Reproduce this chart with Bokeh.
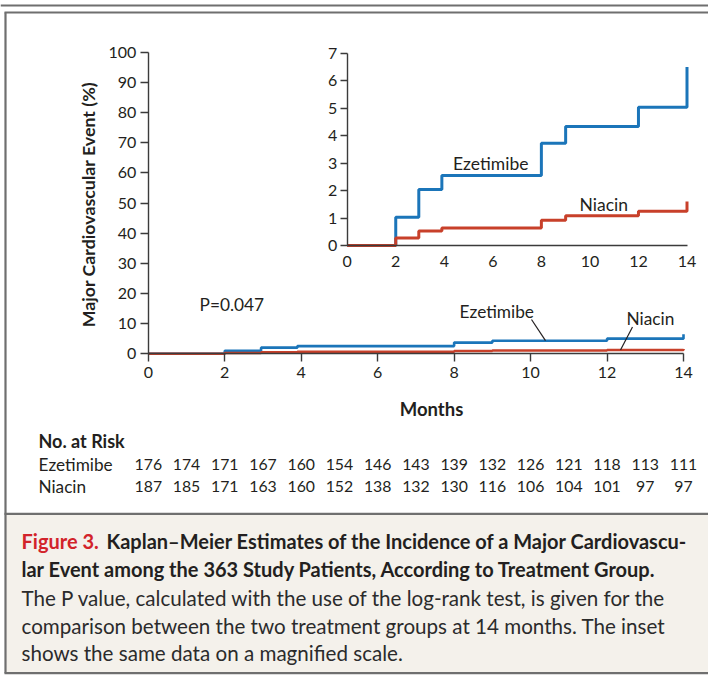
import math
from bokeh.plotting import figure
from bokeh.models import Range1d, LinearAxis, FixedTicker
from bokeh.core.properties import value
from bokeh.embed import file_html
from bokeh.resources import INLINE

# ---------------- data ----------------
ez_months = [0, 2, 2.95, 3.9, 8, 9, 12, 14]
ez_pct = [0.0, 1.03, 2.04, 2.55, 3.72, 4.33, 5.03, 6.5]
ni_months = [0, 2, 2.95, 3.9, 8, 9, 12, 14]
ni_pct = [0.0, 0.27, 0.53, 0.64, 0.92, 1.08, 1.25, 1.6]

risk_months = list(range(15))
risk_ez = [176, 174, 171, 167, 160, 154, 146, 143, 139, 132, 126, 121, 118, 113, 111]
risk_ni = [187, 185, 171, 163, 160, 152, 138, 132, 130, 116, 106, 104, 101, 97, 97]

main_x_ticks = [0, 2, 4, 6, 8, 10, 12, 14]
main_y_ticks = [0, 10, 20, 30, 40, 50, 60, 70, 80, 90, 100]
inset_x_ticks = [0, 2, 4, 6, 8, 10, 12, 14]
inset_y_ticks = [0, 1, 2, 3, 4, 5, 6, 7]

group_names = ["Ezetimibe", "Niacin"]
p_text = "P=0.047"
y_title = "Major Cardiovascular Event (%)"
x_title = "Months"
risk_title = "No. at Risk"
cap_fig = "Figure 3."
cap_line1 = "Kaplan\u2013Meier Estimates of the Incidence of a Major Cardiovascu-"
cap_line2 = "lar Event among the 363 Study Patients, According to Treatment Group."
cap_body = [
    "The P value, calculated with the use of the log-rank test, is given for the",
    "comparison between the two treatment groups at 14 months. The inset",
    "shows the same data on a magnified scale.",
]

# ---------------- geometry (canvas pixels) ----------------
W, H = 708, 675
MX0, MX1 = 147.8, 683.0     # month 0 / 14 on main plot
MY0, MY1 = 353.3, 51.7      # 0 % / 100 % on main plot
IX0, IX1 = 346.7, 686.5     # month 0 / 14 on inset
IY0, IY1 = 245.0, 52.7      # 0 / 7 % on inset

BLUE = "#1b75b9"
RED = "#c8402a"
INK = "#231f20"
AX = "#3b3b3b"
FONT = "Lato"


def rng_x(v0, p0, v1, p1):
    s = (p1 - p0) / (v1 - v0)
    return Range1d(v0 - p0 / s, v0 + (W - p0) / s)


def rng_y(v0, p0, v1, p1):
    s = (p0 - p1) / (v1 - v0)
    return Range1d(v0 - (H - p0) / s, v0 + p0 / s)


p = figure(width=W, height=H, x_range=rng_x(0, MX0, 14, MX1),
           y_range=rng_y(0, MY0, 100, MY1),
           x_axis_type=None, y_axis_type=None, toolbar_location=None,
           output_backend="svg", min_border=0, outline_line_color=None,
           background_fill_color="white", border_fill_color="white")
p.extra_x_ranges = {"ix": rng_x(0, IX0, 14, IX1), "px": Range1d(0, W)}
p.extra_y_ranges = {"iy": rng_y(0, IY0, 7, IY1), "px": Range1d(H, 0)}

PX = dict(x_range_name="px", y_range_name="px")

# ---------------- frame / caption box ----------------
SEP_Y, BOT_Y = 513.3, 672.7
p.quad(left=[5], right=[W], top=[SEP_Y], bottom=[BOT_Y],
       fill_color="#f4f1eb", line_color=None, **PX)
p.segment(x0=[0, 4, 4, 4, 5], y0=[5, 12, SEP_Y, BOT_Y, 12],
          x1=[W, W, W, W, 5], y1=[5, 12, SEP_Y, BOT_Y, BOT_Y],
          line_color="#6f6f6f", line_width=2.2, **PX)


def style_axis(ax, tick_out=7, size="16px"):
    ax.axis_line_color = AX
    ax.axis_line_width = 1.4
    ax.major_tick_line_color = AX
    ax.major_tick_line_width = 1.4
    ax.major_tick_out = tick_out
    ax.major_tick_in = 0
    ax.minor_tick_line_color = None
    ax.major_label_text_font = FONT
    ax.major_label_text_font_size = size
    ax.major_label_text_color = INK
    ax.major_label_orientation = "horizontal"


# ---------------- main axes ----------------
yax = LinearAxis(ticker=FixedTicker(ticks=main_y_ticks), bounds=(0, 100),
                 fixed_location=0)
style_axis(yax, tick_out=8)
yax.major_label_standoff = 4
p.add_layout(yax, "left")

xax = LinearAxis(ticker=FixedTicker(ticks=main_x_ticks), bounds=(0, 14),
                 fixed_location=0)
style_axis(xax, tick_out=8)
xax.major_label_standoff = 5
p.add_layout(xax, "below")

# ---------------- inset axes ----------------
iyax = LinearAxis(ticker=FixedTicker(ticks=inset_y_ticks), bounds=(0, 7),
                  fixed_location=0, x_range_name="ix", y_range_name="iy")
style_axis(iyax, tick_out=7)
iyax.major_label_standoff = 3
p.add_layout(iyax, "left")

ixax = LinearAxis(ticker=FixedTicker(ticks=inset_x_ticks), bounds=(0, 14),
                  fixed_location=0, x_range_name="ix", y_range_name="iy")
style_axis(ixax, tick_out=0)
ixax.major_label_standoff = 10
p.add_layout(ixax, "below")

# ---------------- axis titles ----------------
p.text(x=[87], y=[204], text=[y_title], angle=math.pi / 2,
       text_font=value(FONT), text_font_size="17.8px", text_font_style="bold",
       text_color=INK, text_align="center", text_baseline="middle", **PX)
p.text(x=[431], y=[408], text=[x_title],
       text_font=value(FONT), text_font_size="18.5px", text_font_style="bold",
       text_color=INK, text_align="center", text_baseline="middle", **PX)

# ---------------- curves ----------------
p.step(ez_months, ez_pct, mode="after", line_color=BLUE, line_width=2.6)
p.step(ni_months, ni_pct, mode="after", line_color=RED, line_width=2.6)
p.step(ez_months, ez_pct, mode="after", line_color=BLUE, line_width=3,
       x_range_name="ix", y_range_name="iy")
p.step(ni_months, ni_pct, mode="after", line_color=RED, line_width=3,
       x_range_name="ix", y_range_name="iy")

# ---------------- curve labels ----------------
p.text(x=[199, 459, 626], y=[303.5, 311, 318],
       text=[p_text, group_names[0], group_names[1]],
       text_font=value(FONT), text_font_size="17.3px", text_color=INK,
       text_align="left", text_baseline="middle", **PX)
p.segment(x0=[531, 632], y0=[319, 326.5], x1=[545, 620], y1=[340.2, 349.5],
          line_color=INK, line_width=1.2, **PX)
p.text(x=[452.5, 579], y=[163, 204], text=[group_names[0], group_names[1]],
       text_font=value(FONT), text_font_size="17.5px", text_color=INK,
       text_align="left", text_baseline="middle", **PX)

# ---------------- risk table ----------------
p.text(x=[38], y=[440], text=[risk_title], text_font=value(FONT),
       text_font_size="18px", text_font_style="bold", text_color=INK,
       text_align="left", text_baseline="middle", **PX)
p.text(x=[38, 38], y=[464, 486], text=group_names, text_font=value(FONT),
       text_font_size="17.2px", text_color=INK, text_align="left",
       text_baseline="middle", **PX)
p.text(x=risk_months, y=[464] * len(risk_months), text=[str(v) for v in risk_ez],
       text_font=value(FONT), text_font_size="15.8px", text_color=INK,
       text_align="center", text_baseline="middle", y_range_name="px")
p.text(x=risk_months, y=[486] * len(risk_months), text=[str(v) for v in risk_ni],
       text_font=value(FONT), text_font_size="15.8px", text_color=INK,
       text_align="center", text_baseline="middle", y_range_name="px")

# ---------------- caption ----------------
p.text(x=[21], y=[540], text=[cap_fig], text_font=value(FONT),
       text_font_size="20px", text_font_style="bold", text_color="#d2232a",
       text_align="left", text_baseline="middle", **PX)
p.text(x=[106, 21], y=[540, 568], text=[cap_line1, cap_line2],
       text_font=value(FONT), text_font_size="20px", text_font_style="bold",
       text_color=INK, text_align="left", text_baseline="middle", **PX)
p.text(x=[21, 21, 21], y=[597, 625, 652], text=cap_body,
       text_font=value(FONT), text_font_size="20.6px", text_color="#2b2b2b",
       text_align="left", text_baseline="middle", **PX)

open("out.html", "w").write(file_html(p, INLINE))
